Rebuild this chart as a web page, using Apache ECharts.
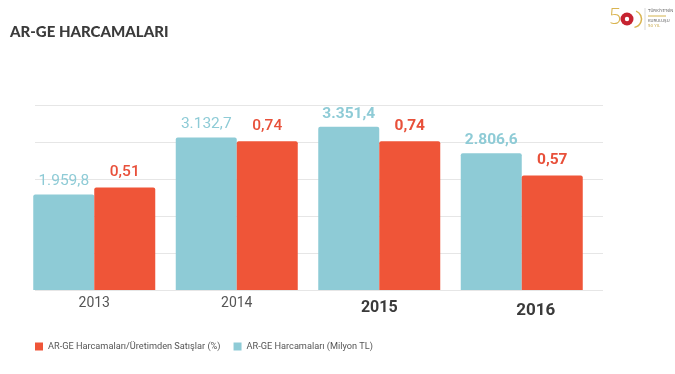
<!DOCTYPE html>
<html><head><meta charset="utf-8">
<script src="https://cdn.jsdelivr.net/npm/echarts@6/dist/echarts.min.js"></script>
<style>html,body{margin:0;padding:0;background:#fff}#c{width:675px;height:374px}</style>
</head><body><div id="c"></div>
<script>
const years = ['2013', '2014', '2015', '2016'];
const spendingMillionTL = [1959.8, 3132.7, 3351.4, 2806.6];
const spendingPctOfSales = [0.51, 0.74, 0.74, 0.57];
const seriesNames = ['AR-GE Harcamaları (Milyon TL)', 'AR-GE Harcamaları/Üretimden Satışlar (%)'];
const titleText = 'AR-GE HARCAMALARI';

const BLUE = '#8ECBD6', RED = '#EF5538';
const LBL = 'Roboto, sans-serif';

function trNum(v, dec) {
  const s = v.toFixed(dec).split('.');
  const intPart = s[0].replace(/\B(?=(\d{3})+(?!\d))/g, '.');
  return s.length > 1 ? intPart + ',' + s[1] : intPart;
}
const emph = i => i >= 2;

const chart = echarts.init(document.getElementById('c'), null, { renderer: 'canvas' });
chart.setOption({
  animation: false,
  backgroundColor: '#fff',
  title: {
    text: titleText, left: 5, top: 20,
    textStyle: { fontFamily: 'Lato', fontWeight: 900, fontSize: 15, color: '#3b3b3b' }
  },
  legend: {
    data: [seriesNames[1], seriesNames[0]],
    left: 30, top: 337, icon: 'rect', itemWidth: 8, itemHeight: 8, itemGap: 13,
    textStyle: { fontFamily: LBL, fontSize: 9.2, color: '#555' }
  },
  grid: [
    { left: 35, right: 72, top: 105, bottom: 84 },
    { left: 23, right: 82, top: 105, bottom: 84 }
  ],
  xAxis: [
    { gridIndex: 0, type: 'category', data: years, show: false },
    {
      gridIndex: 1, type: 'category', data: years,
      axisLine: { show: false }, axisTick: { show: false },
      axisLabel: {
        margin: 6,
        formatter: (v, i) => i === 3 ? '{c|' + v + '}' : (emph(i) ? '{b|' + v + '}' : '{n|' + v + '}'),
        rich: {
          n: { fontFamily: 'Roboto', fontSize: 14, color: '#555' },
          b: { fontFamily: 'Roboto', fontSize: 16, fontWeight: 'bold', color: '#3a3a3a', padding: [4, 0, 0, 0] },
          c: { fontFamily: 'Roboto', fontSize: 17, fontWeight: 'bold', color: '#3a3a3a', padding: [6, 0, 0, 28] }
        }
      }
    }
  ],
  yAxis: [
    {
      gridIndex: 0, type: 'value', min: 0, max: 3800, interval: 760,
      axisLabel: { show: false }, axisLine: { show: false }, axisTick: { show: false },
      splitLine: { lineStyle: { color: '#e6e6e6', width: 1 } }
    },
    {
      gridIndex: 1, type: 'value', min: 0, max: 3800, interval: 760, show: false,
      splitLine: { show: false }
    },
    {
      gridIndex: 1, type: 'value', min: 0, max: 0.92, show: false,
      splitLine: { show: false }
    }
  ],
  series: [
    {
      name: seriesNames[0], type: 'bar', xAxisIndex: 1, yAxisIndex: 1,
      barWidth: 61, barGap: '0%',
      itemStyle: { color: BLUE, borderRadius: [2, 2, 0, 0] },
      data: spendingMillionTL.map((v, i) => ({
        value: v,
        label: {
          show: true, position: 'top', distance: 5,
          formatter: () => trNum(v, 1),
          fontFamily: LBL, fontSize: 15.5, color: BLUE,
          fontWeight: emph(i) ? 'bold' : 'normal'
        }
      }))
    },
    {
      name: seriesNames[1], type: 'bar', xAxisIndex: 1, yAxisIndex: 2,
      barWidth: 61, barGap: '0%',
      itemStyle: { color: RED, borderRadius: [2, 2, 0, 0] },
      data: spendingPctOfSales.map((v, i) => ({
        value: v,
        label: {
          show: true, position: 'top', distance: 7,
          formatter: () => trNum(v, 2),
          fontFamily: LBL, fontSize: 15.5, color: '#E8503A',
          fontWeight: emph(i) ? 'bold' : 500
        }
      }))
    }
  ],
  graphic: [
    { type: 'text', left: 609, top: 7, style: { text: '5', font: '300 22px "Open Sans"', fill: '#D9B450' } },
    { type: 'circle', shape: { cx: 627, cy: 19, r: 6.5 }, style: { fill: '#C62330' } },
    { type: 'circle', shape: { cx: 627, cy: 19, r: 2.2 }, style: { fill: '#fff' } },
    { type: 'arc', shape: { cx: 633, cy: 19, r: 8.5, startAngle: -1.2, endAngle: 1.4 }, style: { stroke: '#D9B450', lineWidth: 1.5, fill: null } },
    { type: 'line', shape: { x1: 645, y1: 8, x2: 645, y2: 30 }, style: { stroke: '#cfcfcf', lineWidth: 0.8 } },
    { type: 'text', left: 648, top: 9, style: { text: "TÜRKİYE'NİN", font: '4px "DejaVu Sans"', fill: '#666' } },
    { type: 'rect', shape: { x: 648, y: 15, width: 18, height: 2 }, style: { fill: '#E9D9A6' } },
    { type: 'text', left: 648, top: 19, style: { text: 'KURULUŞU', font: '4px "DejaVu Sans"', fill: '#666' } },
    { type: 'text', left: 648, top: 24, style: { text: '50 YIL', font: '4px "DejaVu Sans"', fill: '#C9A94A' } }
  ]
});
</script>
</body></html>
